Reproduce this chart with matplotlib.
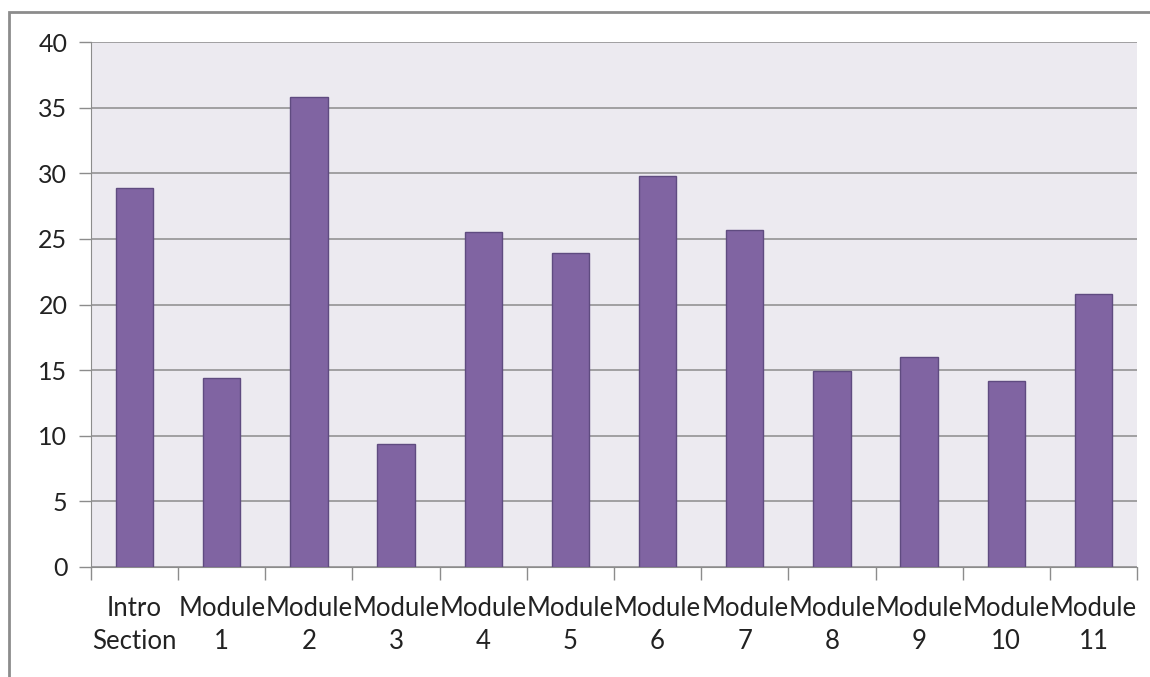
import matplotlib
matplotlib.use('Agg')
import matplotlib.pyplot as plt
from matplotlib.patches import Rectangle

# Datos del grafico
categorias = ['Intro\nSection', 'Module\n1', 'Module\n2', 'Module\n3', 'Module\n4', 'Module\n5',
              'Module\n6', 'Module\n7', 'Module\n8', 'Module\n9', 'Module\n10', 'Module\n11']
valores = [28.9, 14.4, 35.8, 9.4, 25.5, 23.9, 29.8, 25.7, 14.9, 16.0, 14.2, 20.8]
marcas_y = [0, 5, 10, 15, 20, 25, 30, 35, 40]

plt.rcParams['font.family'] = ['Lato', 'DejaVu Sans']

fig = plt.figure(figsize=(11.5, 6.77), dpi=100)
ax = fig.add_axes([91/1150, 1 - 567/677, (1137 - 91)/1150, (567 - 42)/677])

# Borde exterior (solo arriba e izquierda visibles)
fig.patches.append(Rectangle((9/1150, -0.1), 1.2, 1 - 12/677 + 0.1, transform=fig.transFigure,
                             fill=False, edgecolor='#8c8c8c', linewidth=2))

ax.set_facecolor('#ECEAF0')
pos = list(range(len(categorias)))
ax.bar(pos, valores, width=0.43, color='#8064A2', edgecolor='#5f4b80', linewidth=1, zorder=3)

ax.set_xlim(-0.5, len(categorias) - 0.5)
ax.set_ylim(0, 40)
ax.set_yticks(marcas_y)
ax.yaxis.grid(True, color='#8c8c8c', linewidth=1.1, zorder=1)

ax.set_xticks([p - 0.5 for p in pos] + [len(categorias) - 0.5])
ax.set_xticklabels([])
ax.set_xticks(pos, minor=True)
ax.set_xticklabels(categorias, minor=True, fontsize=18.5, color='#222222', linespacing=1.4)
ax.tick_params(axis='x', which='minor', length=0, pad=21)
ax.tick_params(axis='x', which='major', length=9, color='#8c8c8c', width=1)
ax.tick_params(axis='y', length=9, color='#8c8c8c', width=1, labelsize=18, labelcolor='#222222', pad=8)

for lado in ['top', 'right']:
    ax.spines[lado].set_visible(False)
ax.spines['left'].set_color('#8c8c8c')
ax.spines['bottom'].set_color('#8c8c8c')

fig.savefig('out.png', dpi=100)
